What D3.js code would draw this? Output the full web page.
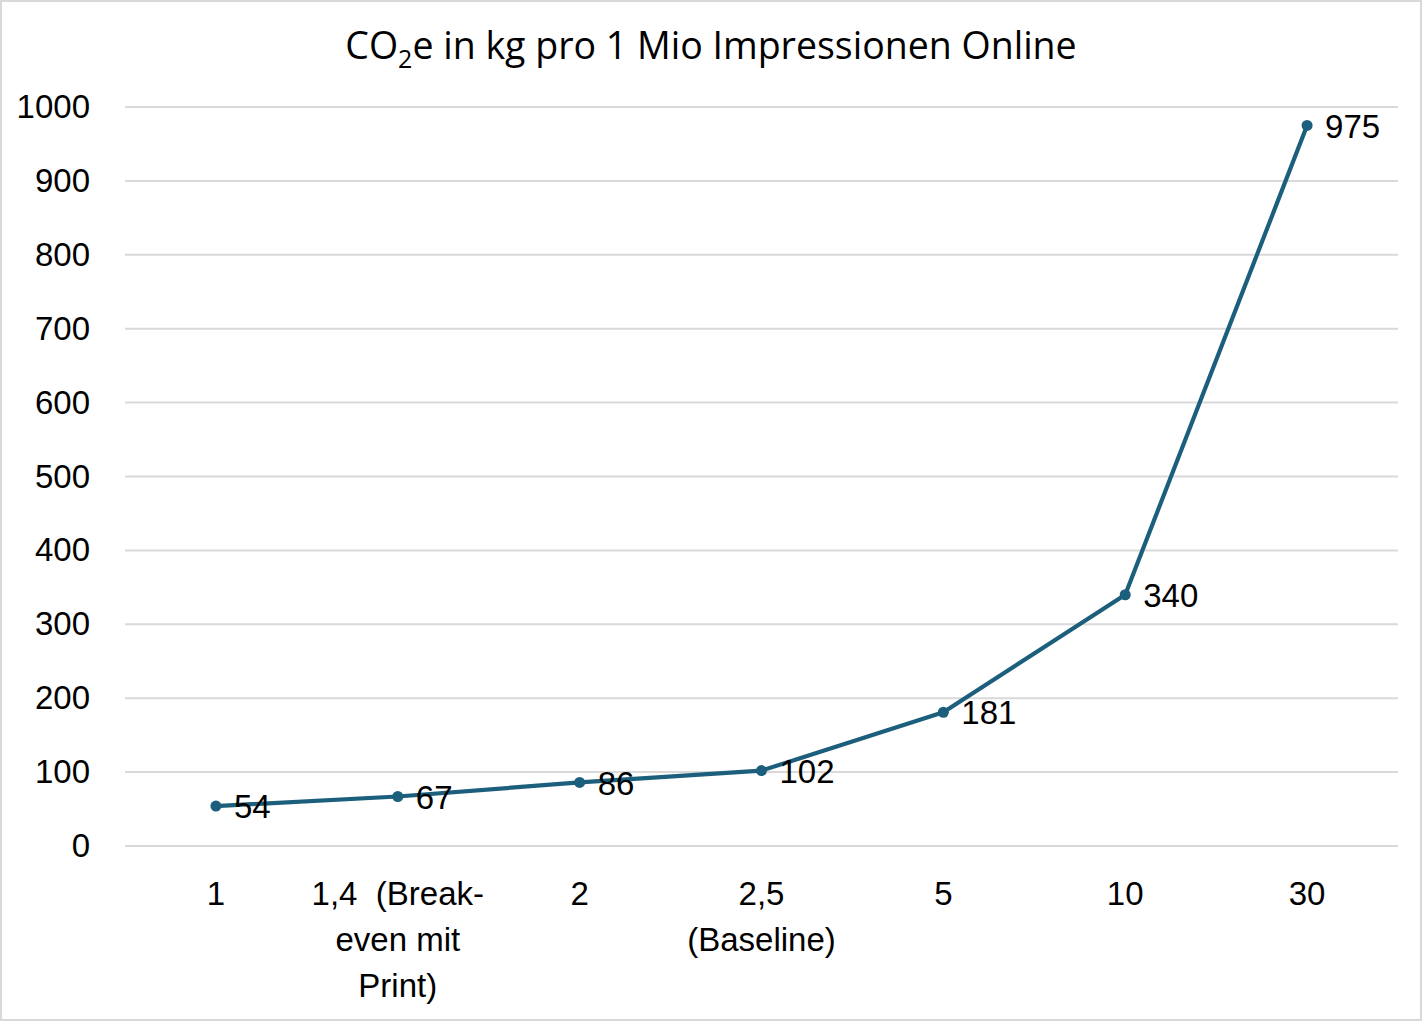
<!DOCTYPE html>
<html>
<head>
<meta charset="utf-8">
<script src="https://cdn.jsdelivr.net/npm/d3@7"></script>
<style>
  html, body { margin: 0; padding: 0; background: #fff; }
  svg { display: block; }
  .xl { white-space: pre; }
</style>
</head>
<body>
<svg id="chart" width="1423" height="1022"></svg>
<script>
const categories = ["1", "1,4  (Break-even mit Print)", "2", "2,5 (Baseline)", "5", "10", "30"];
const categoryLines = [["1"], ["1,4  (Break-", "even mit", "Print)"], ["2"], ["2,5", "(Baseline)"], ["5"], ["10"], ["30"]];
const values = [54, 67, 86, 102, 181, 340, 975];
const yTicks = [0, 100, 200, 300, 400, 500, 600, 700, 800, 900, 1000];

const W = 1423, H = 1022;
const margin = { left: 125, right: 25, top: 107, bottom: 176 };
const svg = d3.select("#chart");
const labelFont = "'Liberation Sans', Arial, sans-serif";
const fs = 33;
const lineColor = "#1c5f7c";

svg.append("rect").attr("x", 1).attr("y", 1).attr("width", W - 3).attr("height", H - 3)
  .attr("fill", "#fff").attr("stroke", "#d9d9d9").attr("stroke-width", 2);

const x = d3.scaleBand().domain(categories).range([margin.left, W - margin.right]);
const y = d3.scaleLinear().domain([0, 1000]).range([H - margin.bottom, margin.top]);

// gridlines
svg.append("g").selectAll("line").data(yTicks).join("line")
  .attr("x1", margin.left).attr("x2", W - margin.right)
  .attr("y1", d => y(d)).attr("y2", d => y(d))
  .attr("stroke", "#d9d9d9").attr("stroke-width", 2);

// y axis labels
const yAxis = d3.axisLeft(y).tickValues(yTicks).tickSize(0).tickPadding(35).tickFormat(d3.format("d"));
const gy = svg.append("g").attr("transform", `translate(${margin.left},0)`).call(yAxis);
gy.select(".domain").remove();
gy.selectAll("text").attr("font-family", labelFont).attr("font-size", fs).attr("fill", "#000");

// x axis labels
const xAxis = d3.axisBottom(x).tickSize(0).tickFormat(() => "");
const gx = svg.append("g").attr("transform", `translate(0,${y(0)})`).call(xAxis);
gx.select(".domain").remove();
gx.selectAll(".tick").each(function(d, i) {
  const t = d3.select(this).append("text").attr("class", "xl")
    .attr("font-family", labelFont).attr("font-size", fs).attr("fill", "#000")
    .attr("text-anchor", "middle");
  categoryLines[i].forEach((ln, j) => {
    t.append("tspan").attr("x", 0).attr("y", 59 + j * 46).text(ln);
  });
});

// line
const cx = (d, i) => x(categories[i]) + x.bandwidth() / 2;
const line = d3.line().x((d, i) => cx(d, i)).y(d => y(d));
svg.append("path").datum(values).attr("d", line)
  .attr("fill", "none").attr("stroke", lineColor).attr("stroke-width", 4.2).attr("stroke-linejoin", "round");

svg.append("g").selectAll("circle").data(values).join("circle")
  .attr("cx", (d, i) => cx(d, i)).attr("cy", d => y(d)).attr("r", 5.5)
  .attr("fill", lineColor);

// data labels
svg.append("g").selectAll("text").data(values).join("text")
  .attr("x", (d, i) => cx(d, i) + 18).attr("y", d => y(d)).attr("dy", "0.37em")
  .attr("font-family", labelFont).attr("font-size", fs).attr("fill", "#000")
  .text(d => d);

// title
const title = svg.append("text").attr("x", 711).attr("y", 59).attr("text-anchor", "middle")
  .attr("font-family", "'Open Sans', 'Noto Sans', sans-serif").attr("font-size", 37.5).attr("fill", "#000");
title.append("tspan").text("CO");
title.append("tspan").attr("font-size", 25).attr("dy", 9).text("2");
title.append("tspan").attr("dy", -9).text("e in kg pro 1 Mio Impressionen Online");
</script>
</body>
</html>
